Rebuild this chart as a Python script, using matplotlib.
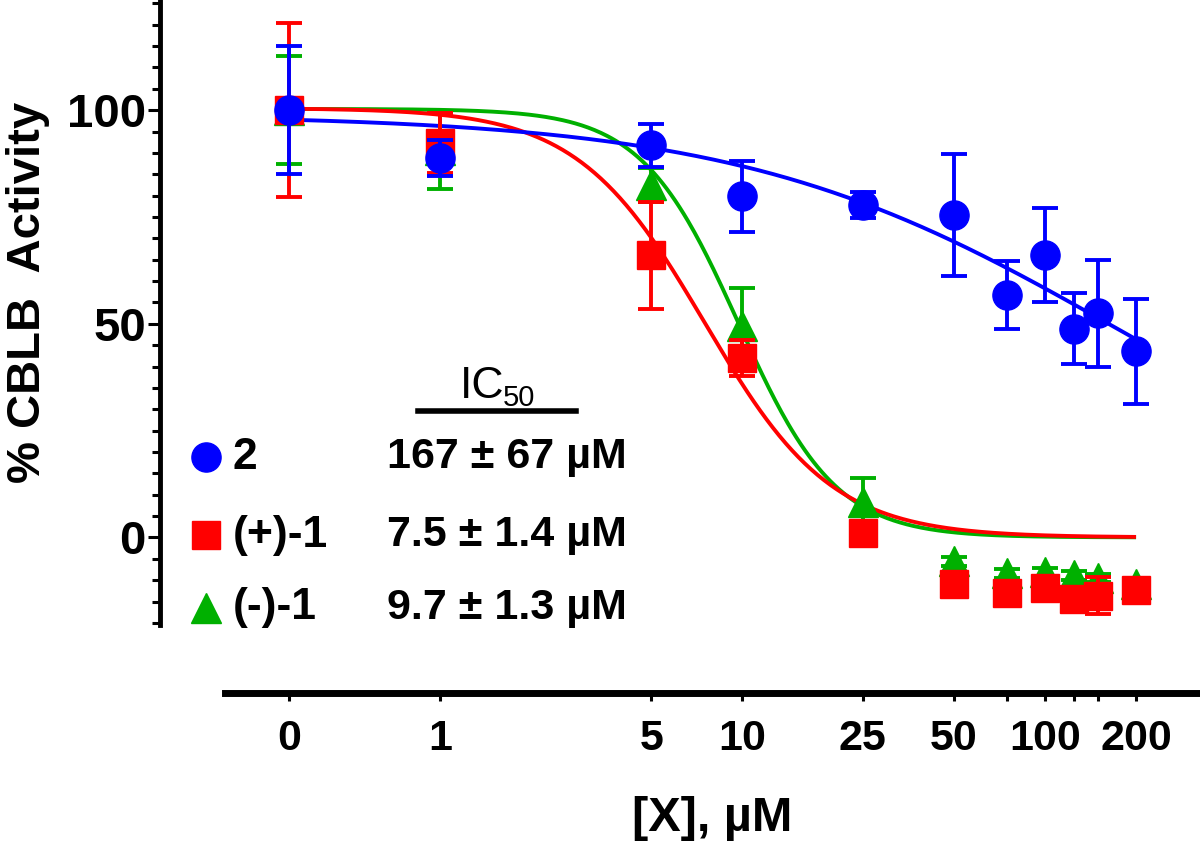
import numpy as np
import matplotlib
matplotlib.use("Agg")
import matplotlib.pyplot as plt
from matplotlib.lines import Line2D
from matplotlib.ticker import FixedLocator, NullLocator, MultipleLocator

plt.rcParams['font.family'] = ['Liberation Sans', 'DejaVu Sans']

# dose (uM); the 0 dose sits half a decade left of 1 on the log axis
conc = [0, 1, 5, 10, 25, 50, 75, 100, 125, 150, 200]
zero_pos = 10 ** -0.5

cmpd2_mean = [100, 88.8, 91.8, 79.9, 77.8, 75.4, 56.7, 66.0, 48.9, 52.5, 43.6]
cmpd2_err = [15, 4.3, 5, 8.3, 3, 14.3, 8, 11, 8.3, 12.5, 12.3]
plus1_mean = [100, 92.4, 66.0, 41.9, 1.0, -10.8, -13.1, -11.9, -14.3, -13.6, -12.4]
plus1_err = [20.4, 7, 12.5, 4.2, 2, 1.5, 1.5, 1.5, 1.5, 4.3, 1.5]
minus1_mean = [100, 90.6, 82.4, 49.4, 8.4, -5.6, -8.4, -8.2, -8.9, -9.5, -11]
minus1_err = [12.6, 9, 4, 9, 5.4, 1, 1, 1, 1, 1, 1]

# fitted dose-response parameters
names = ['2', '(+)-1', '(-)-1']
ic50 = [167, 7.5, 9.7]
ic50_err = [67, 1.4, 1.3]
fit_top = [99, 100.5, 100.3]
fit_bottom = [0, 0, 0]
fit_hill = [0.7, 2.06, 2.7]

xtick_vals = [0, 1, 5, 10, 25, 50, 75, 100, 125, 150, 200]
xtick_labels = ['0', '1', '5', '10', '25', '50', '', '100', '', '', '200']

colors = ['#0000ff', '#ff0000', '#00b000']
markers = ['o', 's', '^']
msizes = [21, 20, 22]

means = [cmpd2_mean, plus1_mean, minus1_mean]
errs = [cmpd2_err, plus1_err, minus1_err]

W, H = 1200, 841
fig = plt.figure(figsize=(W / 100, H / 100), dpi=100)
ax = fig.add_axes([225 / W, 1 - 625 / H, 975 / W, 625 / H])

xpos = np.array([c if c > 0 else zero_pos for c in conc], dtype=float)
xfit = np.logspace(-0.5, np.log10(200), 400)

# curves first, green at bottom, blue on top
for i in [2, 1, 0]:
    yfit = fit_bottom[i] + (fit_top[i] - fit_bottom[i]) / (1 + (xfit / ic50[i]) ** fit_hill[i])
    ax.plot(xfit, yfit, color=colors[i], lw=2.8, zorder=2 + (2 - i) * 0.1, solid_capstyle='butt')

for i in [2, 1, 0]:
    ax.errorbar(xpos, means[i], yerr=errs[i], fmt=markers[i], color=colors[i],
                ms=msizes[i], mec=colors[i], elinewidth=2.8, capsize=9.5, capthick=2.8,
                zorder=4 + (2 - i) * 0.1)

ax.set_xscale('log')
ax.set_xlim(10 ** -0.7107, 10 ** 2.5124)
ax.set_ylim(-20.5, 125.8)

ax.xaxis.set_major_locator(FixedLocator([c if c > 0 else zero_pos for c in xtick_vals]))
ax.set_xticklabels(xtick_labels)
ax.xaxis.set_minor_locator(NullLocator())
ax.yaxis.set_major_locator(FixedLocator([0, 50, 100]))
ax.yaxis.set_minor_locator(MultipleLocator(5))

for s in ['top', 'right']:
    ax.spines[s].set_visible(False)
ax.spines['bottom'].set_position(('outward', 49))
ax.spines['left'].set_position(('outward', 47))
ax.spines['bottom'].set_linewidth(5)
ax.spines['left'].set_linewidth(3.5)

ax.tick_params(axis='x', length=6, width=2.2, pad=13, labelsize=31)
ax.tick_params(axis='y', which='major', length=9, width=2.2, pad=1, labelsize=34)
ax.tick_params(axis='y', which='minor', length=6, width=2.2)
for lab in ax.get_xticklabels() + ax.get_yticklabels():
    lab.set_fontweight('bold')

ax.set_xlabel('[X], \u00b5M', fontsize=35, fontweight='bold', labelpad=26)
ax.set_ylabel('% CBLB  Activity', fontsize=34, fontweight='bold')
ax.yaxis.set_label_coords(50 / W, 1 - 292 / H, transform=fig.transFigure)


# IC50 key inside the plot
def fx(px):
    return px / W


def fy(py):
    return 1 - py / H


fig.text(fx(460), fy(398), 'IC', fontsize=32, ha='left', va='baseline')
fig.text(fx(503), fy(406), '50', fontsize=21, ha='left', va='baseline')
fig.add_artist(Line2D([fx(418), fx(576)], [fy(411), fy(411)], color='black', lw=4))

row_y = [457, 535, 608]
for i in range(3):
    fig.add_artist(Line2D([fx(206)], [fy(row_y[i])], marker=markers[i], ms=msizes[i],
                          color=colors[i], mec=colors[i], ls='none'))
    fig.text(fx(233), fy(row_y[i]), names[i], fontsize=32, fontweight='bold',
             ha='left', va='center')
    fig.text(fx(627), fy(row_y[i]), f'{ic50[i]} \u00b1 {ic50_err[i]} \u00b5M', fontsize=31,
             fontweight='bold', ha='right', va='center')

fig.savefig('out.png', dpi=100)
